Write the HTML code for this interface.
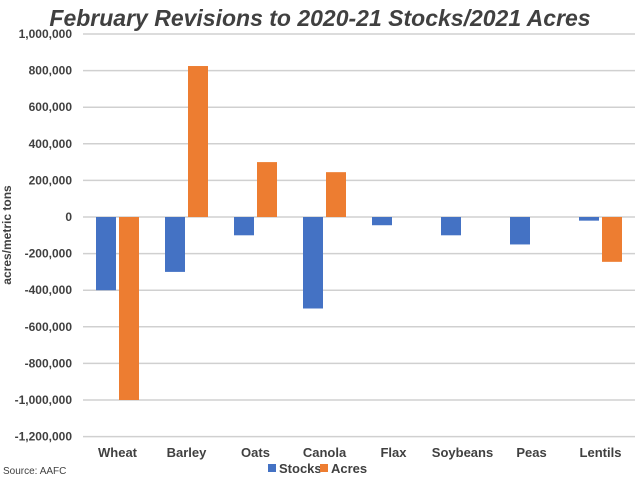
<!DOCTYPE html>
<html><head><meta charset="utf-8"><style>
body{margin:0;background:#fff;}
svg text{font-family:"Liberation Sans",sans-serif;fill:#404040;}
</style></head><body>
<svg id="c" width="640" height="480">
<text x="320" y="26" text-anchor="middle" font-size="23" font-weight="bold" font-style="italic">February Revisions to 2020-21 Stocks/2021 Acres</text>
<text transform="translate(11,235) rotate(-90)" text-anchor="middle" font-size="12" font-weight="bold">acres/metric tons</text>
<text x="3" y="474" font-size="10">Source: AAFC</text>
<g id="grid"></g><g id="bars"></g><g id="xl"></g>
<rect x="268" y="464" width="8" height="8" fill="#4472c4"/>
<text x="279" y="473" font-size="13" font-weight="bold">Stocks</text>
<rect x="320" y="464" width="8" height="8" fill="#ed7d31"/>
<text x="331" y="473" font-size="13" font-weight="bold">Acres</text>
</svg>
<script>
const categories=["Wheat","Barley","Oats","Canola","Flax","Soybeans","Peas","Lentils"];
const stocks=[-400000,-300000,-100000,-500000,-45000,-100000,-150000,-20000];
const acres=[-1000000,825000,300000,245000,0,0,0,-245000];
const ticks=[1000000,800000,600000,400000,200000,0,-200000,-400000,-600000,-800000,-1000000,-1200000];
const NS="http://www.w3.org/2000/svg";
const x0=83,x1=635,cw=(x1-x0)/categories.length;
function y(v){return 217-v/200000*36.6;}
function mk(t,a,p){const e=document.createElementNS(NS,t);for(const k in a)e.setAttribute(k,a[k]);p.appendChild(e);return e;}
const g=document.getElementById('grid'),b=document.getElementById('bars'),xl=document.getElementById('xl');
ticks.forEach(t=>{
 const l=mk('line',{x1:x0,x2:x1,y1:y(t),y2:y(t),stroke:'#d0d0d0','stroke-width':1.5},g);
 
 
 const tx=mk('text',{x:72,y:y(t)+4,'text-anchor':'end','font-size':12,'font-weight':'bold'},g);
 tx.textContent=t.toLocaleString('en-US');
 
 
});
categories.forEach((c,i)=>{
 const cx=x0+cw*i;
 [[stocks[i],13,'#4472c4','stocks'],[acres[i],36,'#ed7d31','acres']].forEach(([v,o,col,n])=>{
  if(!v)return;
  const r=mk('rect',{x:cx+o,y:Math.min(y(v),y(0)),width:20,height:Math.abs(y(v)-y(0)),fill:col},b);
  
  
 });
 const t=mk('text',{x:cx+cw/2,y:457,'text-anchor':'middle','font-size':13,'font-weight':'bold'},xl);
 t.textContent=c;
 
 
});
</script>
</body></html>
